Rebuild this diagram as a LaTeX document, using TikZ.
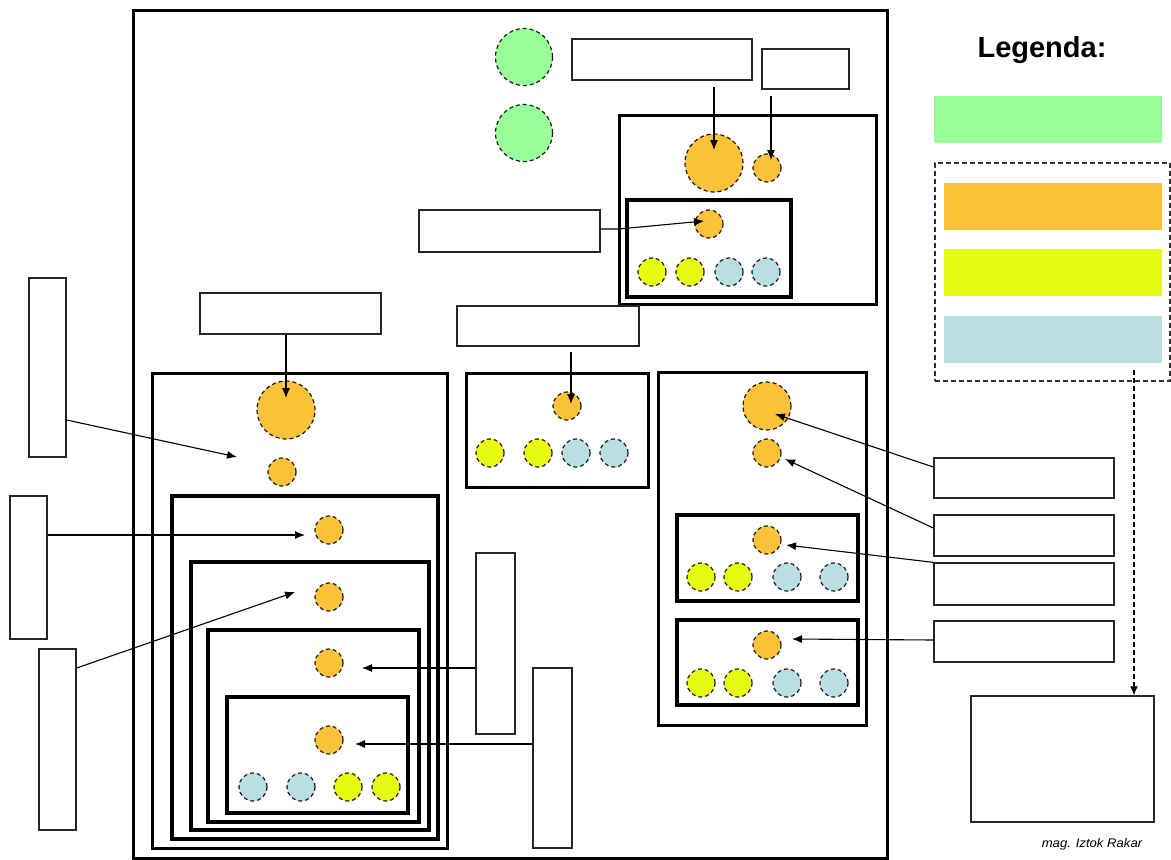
\documentclass[tikz,border=0pt]{standalone}
\usepackage{fontspec}
\setmainfont{Liberation Sans}
\usetikzlibrary{fit,calc,arrows.meta}
\definecolor{cgreen}{HTML}{99FF99}
\definecolor{corange}{HTML}{FCC23A}
\definecolor{cyellow}{HTML}{E8FC12}
\definecolor{cblue}{HTML}{B9DFE3}
\tikzset{
  frm/.style={draw, line width=#1, inner sep=0pt},
  lbl/.style={draw=black!85, line width=1.3pt, fill=white, inner sep=0pt},
  bar/.style={fill=#1, inner sep=0pt},
  dot/.style={circle, fill=#1, draw=black!90, line width=1.2pt, dash pattern=on 4pt off 3pt, inner sep=0pt, minimum size=28pt},
  big/.style={minimum size=#1},
  arr/.style={line width=1.1pt, -{Latex[length=10pt,width=8pt]}},
}
\begin{document}
\begin{tikzpicture}[x=1pt,y=-1pt]
\useasboundingbox (0,0) rectangle (1171,860);
% main frame
\node[frm=3pt, fit={(133,10)(887,858)}] (frame) {};
% green circles
\node[dot=cgreen, big=57pt] (g1) at (524,57) {};
\node[dot=cgreen, big=57pt] (g2) at (524,133) {};
% top right group
\node[frm=3pt, fit={(619,115)(876,304)}] (TR) {};
\node[dot=corange, big=58pt] (TRb) at (714,163) {};
\node[dot=corange] (TRs) at (767,168) {};
\node[lbl, fit={(572,39)(752,80)}] (L1) {};
\node[lbl, fit={(762,49)(849,89)}] (L2) {};
\coordinate (L1a) at (714,87);
\coordinate (L2a) at (771,96);
\draw[arr] (L1a) -- ($(TRb)+(0,-13)$);
\draw[arr] (L2a) -- ($(TRs)+(4,-8)$);
\node[frm=4pt, fit={(627,200)(791,297)}] (TRi) {};
\node[dot=corange] (TRio) at (709,224) {};
\node[dot=cyellow] (TRy1) at (652,272) {};
\node[dot=cyellow] (TRy2) at (690,272) {};
\node[dot=cblue] (TRb1) at (729,272) {};
\node[dot=cblue] (TRb2) at (766,272) {};
\node[lbl, fit={(419,210)(600,252)}] (L3) {};
\draw[arr] (L3.east) ++(0,-2) -- ++(18,0) -- ($(TRio)+(-5,-3)$);
% middle group
\node[lbl, fit={(457,306)(639,346)}] (L4) {};
\node[frm=3pt, fit={(466,373)(648,487)}] (M) {};
\node[dot=corange] (Mo) at (567,406) {};
\node[dot=cyellow] (My1) at (490,453) {};
\node[dot=cyellow] (My2) at (538,453) {};
\node[dot=cblue] (Mb1) at (576,453) {};
\node[dot=cblue] (Mb2) at (614,453) {};
\coordinate (L4a) at (571,352);
\draw[arr] (L4a) -- ($(Mo)+(4,-2)$);
% left nested group
\node[lbl, fit={(200,293)(381,334)}] (L5) {};
\node[frm=3pt, fit={(152,373)(447,848)}] (A) {};
\node[dot=corange, big=58pt] (Ab) at (286,410) {};
\node[dot=corange] (As) at (282,472) {};
\draw[arr] (L5.south -| Ab) -- ($(Ab)+(0,-12)$);
\node[frm=4pt, fit={(172,496)(438,839)}] (B) {};
\node[dot=corange] (Bo) at (329,530) {};
\node[frm=3.5pt, fit={(191,562)(429,830)}] (C) {};
\node[dot=corange] (Co) at (329,597) {};
\node[frm=3.5pt, fit={(208,630)(419,822)}] (D) {};
\node[dot=corange] (Do) at (329,663) {};
\node[frm=4pt, fit={(227,697)(408,813)}] (E) {};
\node[dot=corange] (Eo) at (329,740) {};
\node[dot=cblue] (Eb1) at (253,787) {};
\node[dot=cblue] (Eb2) at (301,787) {};
\node[dot=cyellow] (Ey1) at (348,787) {};
\node[dot=cyellow] (Ey2) at (386,787) {};
\coordinate (Aend) at (237,457);
\coordinate (Bend) at (305,535);
\coordinate (Cend) at (295,592);
\coordinate (Dend) at (362,668);
\coordinate (Eend) at (355,744);
\node[lbl, fit={(29,278)(66,457)}] (T1) {};
\node[lbl, fit={(10,496)(47,639)}] (T2) {};
\node[lbl, fit={(39,649)(76,830)}] (T3) {};
\node[lbl, fit={(476,553)(515,734)}] (T4) {};
\node[lbl, fit={(533,668)(572,848)}] (T5) {};
\draw[arr] (T1.east |- 0,420) -- (Aend);
\draw[arr] (T2.east |- 0,535) -- (Bend);
\draw[arr] (T3.east |- 0,668) -- (Cend);
\draw[arr] (T4.west |- 0,668) -- (Dend);
\draw[arr] (T5.west |- 0,744) -- (Eend);
% right group
\node[frm=3pt, fit={(658,372)(866,725)}] (R) {};
\node[dot=corange, big=48pt] (Rb) at (767,406) {};
\node[dot=corange] (Rs) at (767,453) {};
\node[frm=3.5pt, fit={(677,515)(858,601)}] (R1) {};
\node[dot=corange] (R1o) at (767,540) {};
\node[dot=cyellow] (R1y1) at (701,577) {};
\node[dot=cyellow] (R1y2) at (738,577) {};
\node[dot=cblue] (R1b1) at (787,577) {};
\node[dot=cblue] (R1b2) at (834,577) {};
\node[frm=3.5pt, fit={(677,620)(858,705)}] (R2) {};
\node[dot=corange] (R2o) at (767,645) {};
\node[dot=cyellow] (R2y1) at (701,683) {};
\node[dot=cyellow] (R2y2) at (738,683) {};
\node[dot=cblue] (R2b1) at (787,683) {};
\node[dot=cblue] (R2b2) at (834,683) {};
\node[lbl, fit={(934,458)(1114,498)}] (Q1) {};
\node[lbl, fit={(934,515)(1114,556)}] (Q2) {};
\node[lbl, fit={(934,563)(1114,605)}] (Q3) {};
\node[lbl, fit={(934,621)(1114,662)}] (Q4) {};
\draw[arr] (Q1.west |- 0,467) -- ($(Rb)+(8,8)$);
\draw[arr] (Q2.west |- 0,528) -- ($(Rs)+(18,6)$);
\draw[arr] (Q3.north west) -- ($(R1o)+(19,5)$);
\draw[arr] (Q4.west |- 0,640) -- ($(R2o)+(25,-6)$);
% legend
\node[font=\bfseries\fontsize{29}{32}\selectfont, anchor=base] (title) at (1042,57) {Legenda:};
\node[bar=cgreen, fit={(934,96)(1162,143)}] (lg) {};
\node[draw=black!80, line width=1.2pt, dash pattern=on 5pt off 3pt, inner sep=0pt, fit={(935,163)(1170,381)}] (lbox) {};
\node[bar=corange, fit={(944,183)(1162,230)}] (lo) {};
\node[bar=cyellow, fit={(944,249)(1162,296)}] (ly) {};
\node[bar=cblue, fit={(944,316)(1162,363)}] (lb) {};
\node[draw=black!85, line width=1.5pt, inner sep=0pt, fit={(971,696)(1154,822)}] (F) {};
\coordinate (ls) at (1134,370);
\draw[line width=1.1pt, dash pattern=on 5pt off 3pt, -{Latex[length=9pt,width=8pt]}] (ls) -- (ls |- F.north);
\node[font=\itshape\fontsize{12.5}{14}\selectfont, anchor=base, xscale=1.05] (author) at (1092,847) {mag. Iztok Rakar};
\end{tikzpicture}
\end{document}
